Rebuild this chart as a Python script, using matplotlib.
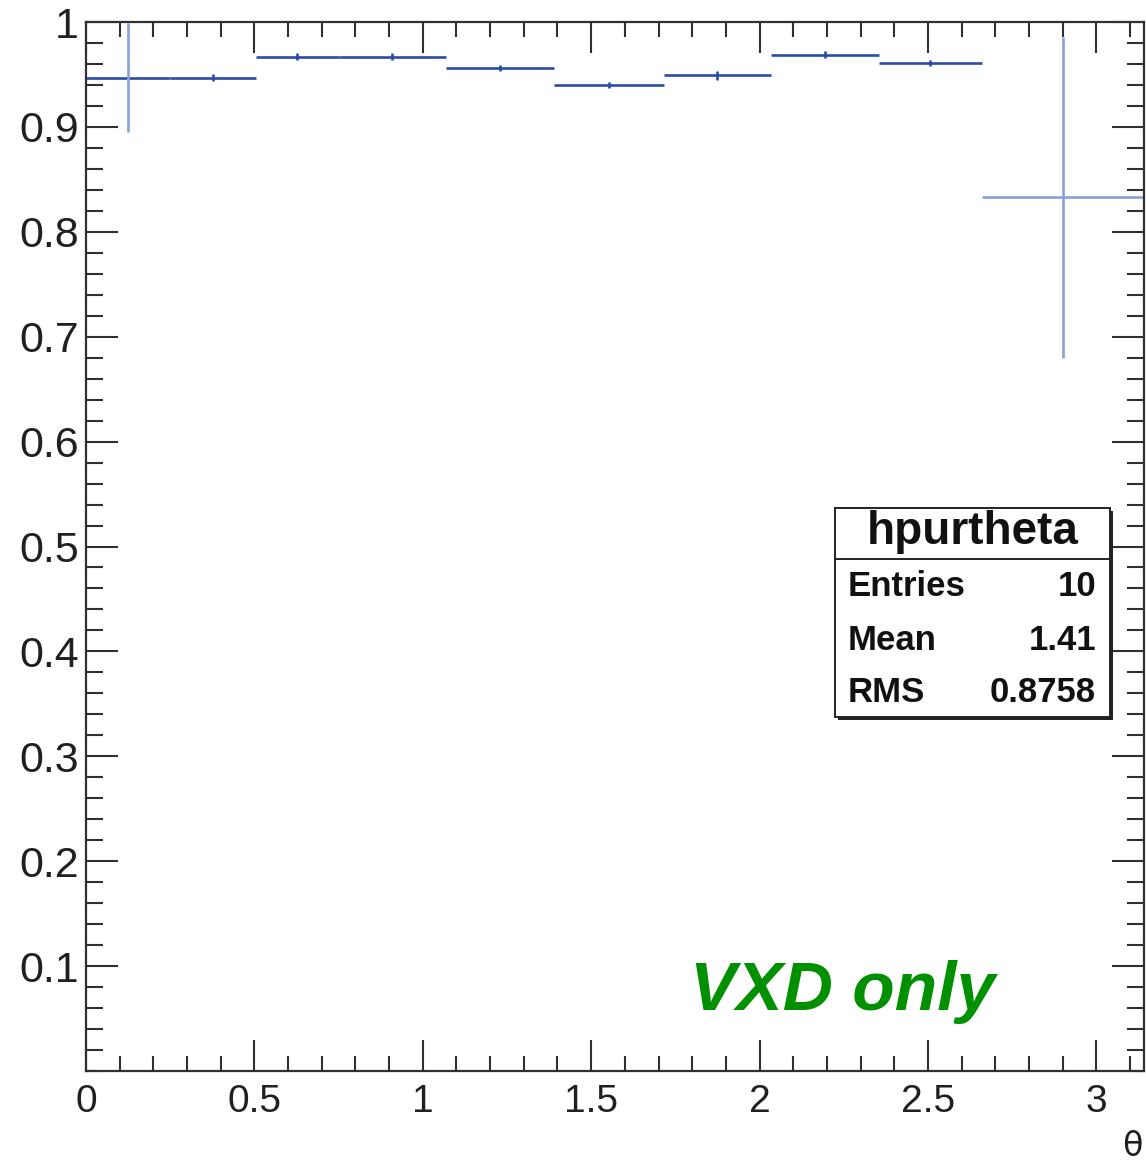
import matplotlib
matplotlib.use("Agg")
import matplotlib.pyplot as plt
import numpy as np
from matplotlib.patches import Rectangle
from matplotlib.ticker import MultipleLocator, FixedLocator

# ---- data ----
bin_edges = [0.0, 0.25, 0.505, 0.75, 1.07, 1.39, 1.715, 2.035, 2.355, 2.66, 3.1416]
purity = [0.947, 0.947, 0.967, 0.967, 0.956, 0.940, 0.949, 0.969, 0.961, 0.833]
purity_err = [0.052, 0.003, 0.003, 0.003, 0.003, 0.003, 0.004, 0.003, 0.003, 0.153]
y_ticks = [0.1, 0.2, 0.3, 0.4, 0.5, 0.6, 0.7, 0.8, 0.9, 1.0]
y_ticklabels = ["0.1", "0.2", "0.3", "0.4", "0.5", "0.6", "0.7", "0.8", "0.9", "1"]
x_ticks = [0, 0.5, 1, 1.5, 2, 2.5, 3]
x_ticklabels = ["0", "0.5", "1", "1.5", "2", "2.5", "3"]
stats_title = "hpurtheta"
stats_rows = [("Entries", "10"), ("Mean", "1.41"), ("RMS", "0.8758")]
annotation = "VXD only"
x_title = "\u03b8"

plt.rcParams['font.family'] = ['Liberation Sans', 'DejaVu Sans']

W, H = 1146, 1163
fig = plt.figure(figsize=(W / 100, H / 100), dpi=100)
ax = fig.add_axes([86 / W, 1 - 1071 / H, (1144 - 86) / W, (1071 - 22) / H])

edges = np.array(bin_edges)
centers = (edges[:-1] + edges[1:]) / 2
half = (edges[1:] - edges[:-1]) / 2
vals = np.array(purity)
errs = np.array(purity_err)

dark = '#2b4ba6'
light = '#8aa0d8'
for c, h, v, e in zip(centers, half, vals, errs):
    vcol = light if e > 0.02 else dark
    hcol = light if e > 0.1 else dark
    ax.errorbar([c], [v], xerr=[[h], [h]], fmt='none',
                ecolor=hcol, elinewidth=1.9, capsize=0)
    ax.errorbar([c], [v], yerr=[[e], [e]], fmt='none',
                ecolor=vcol, elinewidth=1.9, capsize=0)

ax.set_xlim(0, np.pi)
ax.set_ylim(0, 1)

ax.xaxis.set_major_locator(FixedLocator(x_ticks))
ax.set_xticklabels(x_ticklabels)
ax.xaxis.set_minor_locator(MultipleLocator(0.1))
ax.yaxis.set_major_locator(FixedLocator(y_ticks))
ax.set_yticklabels(y_ticklabels)
ax.yaxis.set_minor_locator(MultipleLocator(0.02))

spine_col = '#303030'
for s in ax.spines.values():
    s.set_color(spine_col)
    s.set_linewidth(1.6)

ax.tick_params(axis='both', which='both', direction='in', top=True, right=True,
               color=spine_col, width=1.5, labelcolor='#202020')
ax.tick_params(axis='x', which='major', length=22, pad=9, labelsize=28)
ax.tick_params(axis='x', which='minor', length=11)
ax.tick_params(axis='y', which='major', length=23, pad=5, labelsize=31)
ax.tick_params(axis='y', which='minor', length=12)

# x title
fig.text(1143 / W, 1 - 1146 / H, x_title, ha='right', va='center', fontsize=24,
         color='#202020', family=['DejaVu Sans'])

# stats box
bx0, bx1 = 835 / W, 1110 / W
by_top, by_bot = 1 - 508 / H, 1 - 717 / H
sep = 1 - 559 / H
shadow = Rectangle((bx0 + 3 / W, by_bot - 3 / H), bx1 - bx0, by_top - by_bot,
                   transform=fig.transFigure, facecolor='#222222', edgecolor='none', zorder=5)
box = Rectangle((bx0, by_bot), bx1 - bx0, by_top - by_bot, transform=fig.transFigure,
                facecolor='white', edgecolor='#222222', linewidth=1.4, zorder=6)
fig.patches.extend([shadow, box])
fig.add_artist(plt.Line2D([bx0, bx1], [sep, sep], transform=fig.transFigure,
                          color='#222222', linewidth=1.4, zorder=7))
fig.text((bx0 + bx1) / 2, 1 - 532 / H, stats_title, ha='center', va='center',
         fontsize=33, fontweight='bold', color='#111111', zorder=8)
row_y = [587, 640, 692]
for (lab, val), ry in zip(stats_rows, row_y):
    fig.text(848 / W, 1 - ry / H, lab, ha='left', va='center', fontsize=25,
             fontweight='bold', color='#111111', zorder=8)
    fig.text(1096 / W, 1 - ry / H, val, ha='right', va='center', fontsize=25,
             fontweight='bold', color='#111111', zorder=8)

# annotation
fig.text(690 / W, 1 - 1010 / H, annotation, ha='left', va='baseline', fontsize=50,
         style='italic', fontweight='bold', color='#009000')

fig.savefig('out.png', dpi=100)
